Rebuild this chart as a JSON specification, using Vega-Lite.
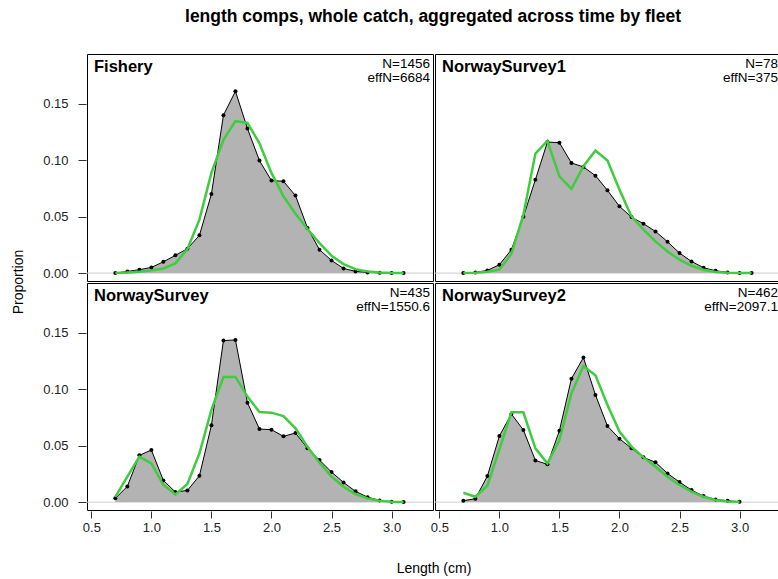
{
  "$schema": "https://vega.github.io/schema/vega-lite/v6.json",
  "title": {
    "text": "length comps, whole catch, aggregated across time by fleet",
    "fontSize": 17.5,
    "fontWeight": "bold",
    "font": "Liberation Sans",
    "color": "black",
    "anchor": "middle",
    "dx": 36,
    "offset": 28
  },
  "padding": {"left": 12, "top": 8, "right": 0, "bottom": 0},
  "data": {
    "values": [
      {"f": "Fishery", "r": "a", "c": "a", "len": 0.7, "obs": 0.0, "exp": 0.0},
      {"f": "Fishery", "r": "a", "c": "a", "len": 0.8, "obs": 0.0015, "exp": 0.0006},
      {"f": "Fishery", "r": "a", "c": "a", "len": 0.9, "obs": 0.003, "exp": 0.0012},
      {"f": "Fishery", "r": "a", "c": "a", "len": 1.0, "obs": 0.005, "exp": 0.0024},
      {"f": "Fishery", "r": "a", "c": "a", "len": 1.1, "obs": 0.010, "exp": 0.0041},
      {"f": "Fishery", "r": "a", "c": "a", "len": 1.2, "obs": 0.0157, "exp": 0.0086},
      {"f": "Fishery", "r": "a", "c": "a", "len": 1.3, "obs": 0.0216, "exp": 0.0213},
      {"f": "Fishery", "r": "a", "c": "a", "len": 1.4, "obs": 0.0334, "exp": 0.0473},
      {"f": "Fishery", "r": "a", "c": "a", "len": 1.5, "obs": 0.070, "exp": 0.0887},
      {"f": "Fishery", "r": "a", "c": "a", "len": 1.6, "obs": 0.1398, "exp": 0.118},
      {"f": "Fishery", "r": "a", "c": "a", "len": 1.7, "obs": 0.161, "exp": 0.1345},
      {"f": "Fishery", "r": "a", "c": "a", "len": 1.8, "obs": 0.128, "exp": 0.133},
      {"f": "Fishery", "r": "a", "c": "a", "len": 1.9, "obs": 0.0996, "exp": 0.115},
      {"f": "Fishery", "r": "a", "c": "a", "len": 2.0, "obs": 0.0819, "exp": 0.0887},
      {"f": "Fishery", "r": "a", "c": "a", "len": 2.1, "obs": 0.0813, "exp": 0.068},
      {"f": "Fishery", "r": "a", "c": "a", "len": 2.2, "obs": 0.0686, "exp": 0.0526},
      {"f": "Fishery", "r": "a", "c": "a", "len": 2.3, "obs": 0.040, "exp": 0.039},
      {"f": "Fishery", "r": "a", "c": "a", "len": 2.4, "obs": 0.0207, "exp": 0.0266},
      {"f": "Fishery", "r": "a", "c": "a", "len": 2.5, "obs": 0.0112, "exp": 0.0154},
      {"f": "Fishery", "r": "a", "c": "a", "len": 2.6, "obs": 0.0041, "exp": 0.008},
      {"f": "Fishery", "r": "a", "c": "a", "len": 2.7, "obs": 0.0015, "exp": 0.0035},
      {"f": "Fishery", "r": "a", "c": "a", "len": 2.8, "obs": 0.0006, "exp": 0.0015},
      {"f": "Fishery", "r": "a", "c": "a", "len": 2.9, "obs": 0.0003, "exp": 0.0006},
      {"f": "Fishery", "r": "a", "c": "a", "len": 3.0, "obs": 0.0, "exp": 0.0},
      {"f": "Fishery", "r": "a", "c": "a", "len": 3.1, "obs": 0.0, "exp": 0.0},

      {"f": "NorwaySurvey1", "r": "a", "c": "b", "len": 0.7, "obs": 0.0, "exp": 0.0},
      {"f": "NorwaySurvey1", "r": "a", "c": "b", "len": 0.8, "obs": 0.0006, "exp": 0.0003},
      {"f": "NorwaySurvey1", "r": "a", "c": "b", "len": 0.9, "obs": 0.0024, "exp": 0.0012},
      {"f": "NorwaySurvey1", "r": "a", "c": "b", "len": 1.0, "obs": 0.0074, "exp": 0.003},
      {"f": "NorwaySurvey1", "r": "a", "c": "b", "len": 1.1, "obs": 0.0207, "exp": 0.0171},
      {"f": "NorwaySurvey1", "r": "a", "c": "b", "len": 1.2, "obs": 0.050, "exp": 0.0517},
      {"f": "NorwaySurvey1", "r": "a", "c": "b", "len": 1.3, "obs": 0.0827, "exp": 0.1058},
      {"f": "NorwaySurvey1", "r": "a", "c": "b", "len": 1.4, "obs": 0.116, "exp": 0.117},
      {"f": "NorwaySurvey1", "r": "a", "c": "b", "len": 1.5, "obs": 0.1155, "exp": 0.0857},
      {"f": "NorwaySurvey1", "r": "a", "c": "b", "len": 1.6, "obs": 0.0975, "exp": 0.0745},
      {"f": "NorwaySurvey1", "r": "a", "c": "b", "len": 1.7, "obs": 0.094, "exp": 0.0946},
      {"f": "NorwaySurvey1", "r": "a", "c": "b", "len": 1.8, "obs": 0.0863, "exp": 0.1085},
      {"f": "NorwaySurvey1", "r": "a", "c": "b", "len": 1.9, "obs": 0.0733, "exp": 0.0996},
      {"f": "NorwaySurvey1", "r": "a", "c": "b", "len": 2.0, "obs": 0.0591, "exp": 0.0739},
      {"f": "NorwaySurvey1", "r": "a", "c": "b", "len": 2.1, "obs": 0.0496, "exp": 0.0502},
      {"f": "NorwaySurvey1", "r": "a", "c": "b", "len": 2.2, "obs": 0.0437, "exp": 0.0384},
      {"f": "NorwaySurvey1", "r": "a", "c": "b", "len": 2.3, "obs": 0.0369, "exp": 0.0281},
      {"f": "NorwaySurvey1", "r": "a", "c": "b", "len": 2.4, "obs": 0.0278, "exp": 0.0192},
      {"f": "NorwaySurvey1", "r": "a", "c": "b", "len": 2.5, "obs": 0.0177, "exp": 0.0118},
      {"f": "NorwaySurvey1", "r": "a", "c": "b", "len": 2.6, "obs": 0.0103, "exp": 0.0065},
      {"f": "NorwaySurvey1", "r": "a", "c": "b", "len": 2.7, "obs": 0.0047, "exp": 0.003},
      {"f": "NorwaySurvey1", "r": "a", "c": "b", "len": 2.8, "obs": 0.0021, "exp": 0.0009},
      {"f": "NorwaySurvey1", "r": "a", "c": "b", "len": 2.9, "obs": 0.0006, "exp": 0.0003},
      {"f": "NorwaySurvey1", "r": "a", "c": "b", "len": 3.0, "obs": 0.0, "exp": 0.0},
      {"f": "NorwaySurvey1", "r": "a", "c": "b", "len": 3.1, "obs": 0.0, "exp": 0.0},

      {"f": "NorwaySurvey", "r": "b", "c": "a", "len": 0.7, "obs": 0.0033, "exp": 0.0047},
      {"f": "NorwaySurvey", "r": "b", "c": "a", "len": 0.8, "obs": 0.0139, "exp": 0.0225},
      {"f": "NorwaySurvey", "r": "b", "c": "a", "len": 0.9, "obs": 0.0414, "exp": 0.0402},
      {"f": "NorwaySurvey", "r": "b", "c": "a", "len": 1.0, "obs": 0.0461, "exp": 0.0343},
      {"f": "NorwaySurvey", "r": "b", "c": "a", "len": 1.1, "obs": 0.0192, "exp": 0.0151},
      {"f": "NorwaySurvey", "r": "b", "c": "a", "len": 1.2, "obs": 0.0089, "exp": 0.0068},
      {"f": "NorwaySurvey", "r": "b", "c": "a", "len": 1.3, "obs": 0.0103, "exp": 0.016},
      {"f": "NorwaySurvey", "r": "b", "c": "a", "len": 1.4, "obs": 0.0233, "exp": 0.0431},
      {"f": "NorwaySurvey", "r": "b", "c": "a", "len": 1.5, "obs": 0.068, "exp": 0.0816},
      {"f": "NorwaySurvey", "r": "b", "c": "a", "len": 1.6, "obs": 0.143, "exp": 0.1108},
      {"f": "NorwaySurvey", "r": "b", "c": "a", "len": 1.7, "obs": 0.1436, "exp": 0.1108},
      {"f": "NorwaySurvey", "r": "b", "c": "a", "len": 1.8, "obs": 0.088, "exp": 0.0934},
      {"f": "NorwaySurvey", "r": "b", "c": "a", "len": 1.9, "obs": 0.0647, "exp": 0.0798},
      {"f": "NorwaySurvey", "r": "b", "c": "a", "len": 2.0, "obs": 0.0641, "exp": 0.0792},
      {"f": "NorwaySurvey", "r": "b", "c": "a", "len": 2.1, "obs": 0.0582, "exp": 0.0762},
      {"f": "NorwaySurvey", "r": "b", "c": "a", "len": 2.2, "obs": 0.0612, "exp": 0.0653},
      {"f": "NorwaySurvey", "r": "b", "c": "a", "len": 2.3, "obs": 0.0476, "exp": 0.049},
      {"f": "NorwaySurvey", "r": "b", "c": "a", "len": 2.4, "obs": 0.0372, "exp": 0.0349},
      {"f": "NorwaySurvey", "r": "b", "c": "a", "len": 2.5, "obs": 0.0266, "exp": 0.0225},
      {"f": "NorwaySurvey", "r": "b", "c": "a", "len": 2.6, "obs": 0.0174, "exp": 0.0136},
      {"f": "NorwaySurvey", "r": "b", "c": "a", "len": 2.7, "obs": 0.0095, "exp": 0.0071},
      {"f": "NorwaySurvey", "r": "b", "c": "a", "len": 2.8, "obs": 0.0044, "exp": 0.0033},
      {"f": "NorwaySurvey", "r": "b", "c": "a", "len": 2.9, "obs": 0.0015, "exp": 0.0012},
      {"f": "NorwaySurvey", "r": "b", "c": "a", "len": 3.0, "obs": 0.0003, "exp": 0.0003},
      {"f": "NorwaySurvey", "r": "b", "c": "a", "len": 3.1, "obs": 0.0, "exp": 0.0},

      {"f": "NorwaySurvey2", "r": "b", "c": "b", "len": 0.7, "obs": 0.0012, "exp": 0.0083},
      {"f": "NorwaySurvey2", "r": "b", "c": "b", "len": 0.8, "obs": 0.003, "exp": 0.0047},
      {"f": "NorwaySurvey2", "r": "b", "c": "b", "len": 0.9, "obs": 0.023, "exp": 0.0145},
      {"f": "NorwaySurvey2", "r": "b", "c": "b", "len": 1.0, "obs": 0.0585, "exp": 0.0467},
      {"f": "NorwaySurvey2", "r": "b", "c": "b", "len": 1.1, "obs": 0.078, "exp": 0.0795},
      {"f": "NorwaySurvey2", "r": "b", "c": "b", "len": 1.2, "obs": 0.0638, "exp": 0.0795},
      {"f": "NorwaySurvey2", "r": "b", "c": "b", "len": 1.3, "obs": 0.0369, "exp": 0.0476},
      {"f": "NorwaySurvey2", "r": "b", "c": "b", "len": 1.4, "obs": 0.0334, "exp": 0.0343},
      {"f": "NorwaySurvey2", "r": "b", "c": "b", "len": 1.5, "obs": 0.0632, "exp": 0.055},
      {"f": "NorwaySurvey2", "r": "b", "c": "b", "len": 1.6, "obs": 0.1093, "exp": 0.0963},
      {"f": "NorwaySurvey2", "r": "b", "c": "b", "len": 1.7, "obs": 0.128, "exp": 0.1206},
      {"f": "NorwaySurvey2", "r": "b", "c": "b", "len": 1.8, "obs": 0.0949, "exp": 0.1123},
      {"f": "NorwaySurvey2", "r": "b", "c": "b", "len": 1.9, "obs": 0.0674, "exp": 0.086},
      {"f": "NorwaySurvey2", "r": "b", "c": "b", "len": 2.0, "obs": 0.0561, "exp": 0.0624},
      {"f": "NorwaySurvey2", "r": "b", "c": "b", "len": 2.1, "obs": 0.0476, "exp": 0.0491},
      {"f": "NorwaySurvey2", "r": "b", "c": "b", "len": 2.2, "obs": 0.0396, "exp": 0.0396},
      {"f": "NorwaySurvey2", "r": "b", "c": "b", "len": 2.3, "obs": 0.0352, "exp": 0.0313},
      {"f": "NorwaySurvey2", "r": "b", "c": "b", "len": 2.4, "obs": 0.0254, "exp": 0.0225},
      {"f": "NorwaySurvey2", "r": "b", "c": "b", "len": 2.5, "obs": 0.0177, "exp": 0.0151},
      {"f": "NorwaySurvey2", "r": "b", "c": "b", "len": 2.6, "obs": 0.0106, "exp": 0.0092},
      {"f": "NorwaySurvey2", "r": "b", "c": "b", "len": 2.7, "obs": 0.0053, "exp": 0.0047},
      {"f": "NorwaySurvey2", "r": "b", "c": "b", "len": 2.8, "obs": 0.0024, "exp": 0.0018},
      {"f": "NorwaySurvey2", "r": "b", "c": "b", "len": 2.9, "obs": 0.0012, "exp": 0.0006},
      {"f": "NorwaySurvey2", "r": "b", "c": "b", "len": 3.0, "obs": 0.0003, "exp": 0.0003},

      {"f": "Fishery", "r": "a", "c": "a", "label": "Fishery", "n": "N=1456", "effn": "effN=6684"},
      {"f": "NorwaySurvey1", "r": "a", "c": "b", "label": "NorwaySurvey1", "n": "N=78", "effn": "effN=375"},
      {"f": "NorwaySurvey", "r": "b", "c": "a", "label": "NorwaySurvey", "n": "N=435", "effn": "effN=1550.6"},
      {"f": "NorwaySurvey2", "r": "b", "c": "b", "label": "NorwaySurvey2", "n": "N=462", "effn": "effN=2097.1"}
    ]
  },
  "facet": {
    "row": {
      "field": "r",
      "type": "nominal",
      "header": {
        "labels": false,
        "title": "Proportion",
        "titleOrient": "left",
        "titleFontSize": 14,
        "titleFontWeight": "normal",
        "titleFont": "Liberation Sans",
        "titleColor": "black",
        "titlePadding": 6
      }
    },
    "column": {
      "field": "c",
      "type": "nominal",
      "header": {
        "labels": false,
        "title": "Length (cm)",
        "titleOrient": "bottom",
        "titleFontSize": 14,
        "titleFontWeight": "normal",
        "titleFont": "Liberation Sans",
        "titleColor": "black",
        "titlePadding": 18
      }
    }
  },
  "spacing": 0,
  "spec": {
    "width": 346,
    "height": 227,
    "layer": [
      {
        "transform": [{"filter": "datum.label != null"}],
        "mark": {"type": "rule", "color": "#cccccc", "strokeWidth": 1},
        "encoding": {"y": {"datum": 0, "type": "quantitative"}}
      },
      {
        "transform": [{"filter": "datum.len != null"}],
        "mark": {"type": "area", "color": "#b3b3b3"},
        "encoding": {
          "x": {
            "field": "len",
            "type": "quantitative",
            "scale": {"domain": [0.464, 3.345], "nice": false, "zero": false},
            "axis": {
              "title": null,
              "values": [0.5, 1.0, 1.5, 2.0, 2.5, 3.0],
              "format": ".1f",
              "grid": false,
              "domain": false,
              "tickSize": 7,
              "tickColor": "#333",
              "labelPadding": 3,
              "labelFontSize": 13,
              "labelFont": "Liberation Sans",
              "labelColor": "#222"
            }
          },
          "y": {
            "field": "obs",
            "type": "quantitative",
            "scale": {"domain": [-0.007, 0.194], "nice": false, "zero": false},
            "axis": {
              "title": null,
              "values": [0, 0.05, 0.1, 0.15],
              "format": ".2f",
              "grid": false,
              "domain": false,
              "tickSize": 8,
              "tickColor": "#333",
              "labelPadding": 10,
              "labelFontSize": 13,
              "labelFont": "Liberation Sans",
              "labelColor": "#222"
            }
          }
        }
      },
      {
        "transform": [{"filter": "datum.len != null"}],
        "mark": {"type": "line", "color": "black", "strokeWidth": 1},
        "encoding": {
          "x": {"field": "len", "type": "quantitative"},
          "y": {"field": "obs", "type": "quantitative"}
        }
      },
      {
        "transform": [{"filter": "datum.len != null"}],
        "mark": {"type": "point", "filled": true, "color": "black", "size": 16, "opacity": 1},
        "encoding": {
          "x": {"field": "len", "type": "quantitative"},
          "y": {"field": "obs", "type": "quantitative"}
        }
      },
      {
        "transform": [{"filter": "datum.len != null"}],
        "mark": {"type": "line", "color": "#3fcc3f", "strokeWidth": 2.5},
        "encoding": {
          "x": {"field": "len", "type": "quantitative"},
          "y": {"field": "exp", "type": "quantitative"}
        }
      },
      {
        "transform": [{"filter": "datum.label != null"}],
        "mark": {"type": "text", "align": "left", "baseline": "alphabetic", "dx": 7, "dy": 18, "fontSize": 16.5, "fontWeight": "bold", "font": "Liberation Sans", "color": "black"},
        "encoding": {
          "x": {"datum": 0.464, "type": "quantitative"},
          "y": {"datum": 0.194, "type": "quantitative"},
          "text": {"field": "label", "type": "nominal"}
        }
      },
      {
        "transform": [{"filter": "datum.label != null"}],
        "mark": {"type": "text", "align": "right", "baseline": "alphabetic", "dx": -3, "dy": 14, "fontSize": 13.5, "font": "Liberation Sans", "color": "black"},
        "encoding": {
          "x": {"datum": 3.345, "type": "quantitative"},
          "y": {"datum": 0.194, "type": "quantitative"},
          "text": {"field": "n", "type": "nominal"}
        }
      },
      {
        "transform": [{"filter": "datum.label != null"}],
        "mark": {"type": "text", "align": "right", "baseline": "alphabetic", "dx": -3, "dy": 28, "fontSize": 13.5, "font": "Liberation Sans", "color": "black"},
        "encoding": {
          "x": {"datum": 3.345, "type": "quantitative"},
          "y": {"datum": 0.194, "type": "quantitative"},
          "text": {"field": "effn", "type": "nominal"}
        }
      }
    ]
  },
  "config": {
    "font": "Liberation Sans",
    "view": {"stroke": "black", "strokeWidth": 1},
    "background": "white"
  }
}
